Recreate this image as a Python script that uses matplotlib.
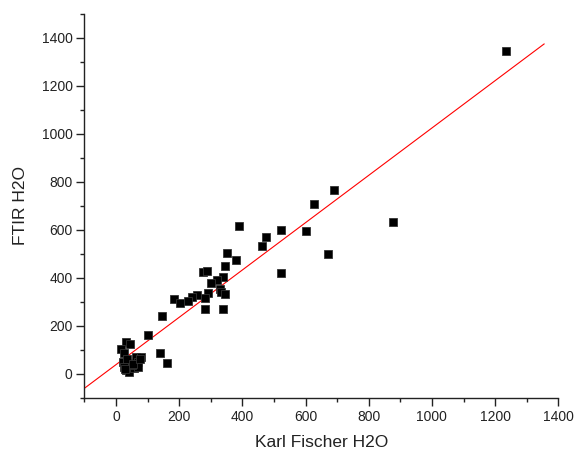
import matplotlib
matplotlib.use("Agg")
import matplotlib.pyplot as plt
from matplotlib.ticker import MultipleLocator
import numpy as np

plt.rcParams['font.family'] = ['Liberation Sans', 'DejaVu Sans']

# Data
kf_h2o = [1233, 690, 626, 600, 878, 670, 523, 521, 389, 476, 462, 351, 379, 345,
          275, 287, 338, 319, 301, 328, 331, 344, 291, 281, 255, 240, 229, 185,
          202, 281, 338, 147, 100, 141, 162, 32, 45, 16, 24, 21, 37, 64, 80, 69,
          32, 42, 58, 69, 27, 50, 35, 55, 30, 75]
ftir_h2o = [1346, 768, 706, 597, 633, 500, 599, 418, 618, 572, 531, 503, 474, 450,
            424, 429, 404, 390, 377, 353, 342, 332, 336, 315, 327, 320, 304, 311,
            296, 272, 272, 239, 160, 88, 45, 133, 124, 102, 85, 50, 43, 71, 71, 50,
            15, 8, 22, 29, 29, 35, 60, 40, 20, 60]

# Linear fit line parameters
fit_intercept = 37.7
fit_slope = 0.987
fit_x_range = [-100, 1355]

x_ticks = [0, 200, 400, 600, 800, 1000, 1200, 1400]
y_ticks = [0, 200, 400, 600, 800, 1000, 1200, 1400]

fig = plt.figure(figsize=(5.76, 4.55), dpi=100)
ax = fig.add_axes([0.1464, 0.1259, 0.9693 - 0.1464, 0.9692 - 0.1259])

fx = np.array(fit_x_range, dtype=float)
ax.plot(fx, fit_intercept + fit_slope * fx, color='red', lw=0.8, zorder=2)
ax.plot(kf_h2o, ftir_h2o, ls='none', marker='s', ms=5.5, color='black',
        mec='#333333', mew=0.6, zorder=3)

ax.set_xlim(-100, 1400)
ax.set_ylim(-100, 1500)
ax.set_xticks(x_ticks)
ax.set_yticks(y_ticks)
ax.xaxis.set_minor_locator(MultipleLocator(100))
ax.yaxis.set_minor_locator(MultipleLocator(100))

for s in ['top', 'right']:
    ax.spines[s].set_visible(False)
for s in ['left', 'bottom']:
    ax.spines[s].set_linewidth(1.0)
    ax.spines[s].set_color('#222222')

ax.tick_params(which='major', direction='out', length=5.5, width=1.0,
               labelsize=10, colors='#222222', pad=3)
ax.tick_params(which='minor', direction='out', length=2.8, width=1.0,
               colors='#222222')

ax.set_xlabel('Karl Fischer H2O', fontsize=12.5, color='#222222', labelpad=8)
ax.set_ylabel('FTIR H2O', fontsize=12.5, color='#222222', labelpad=10)

fig.savefig('out.png', dpi=100)
